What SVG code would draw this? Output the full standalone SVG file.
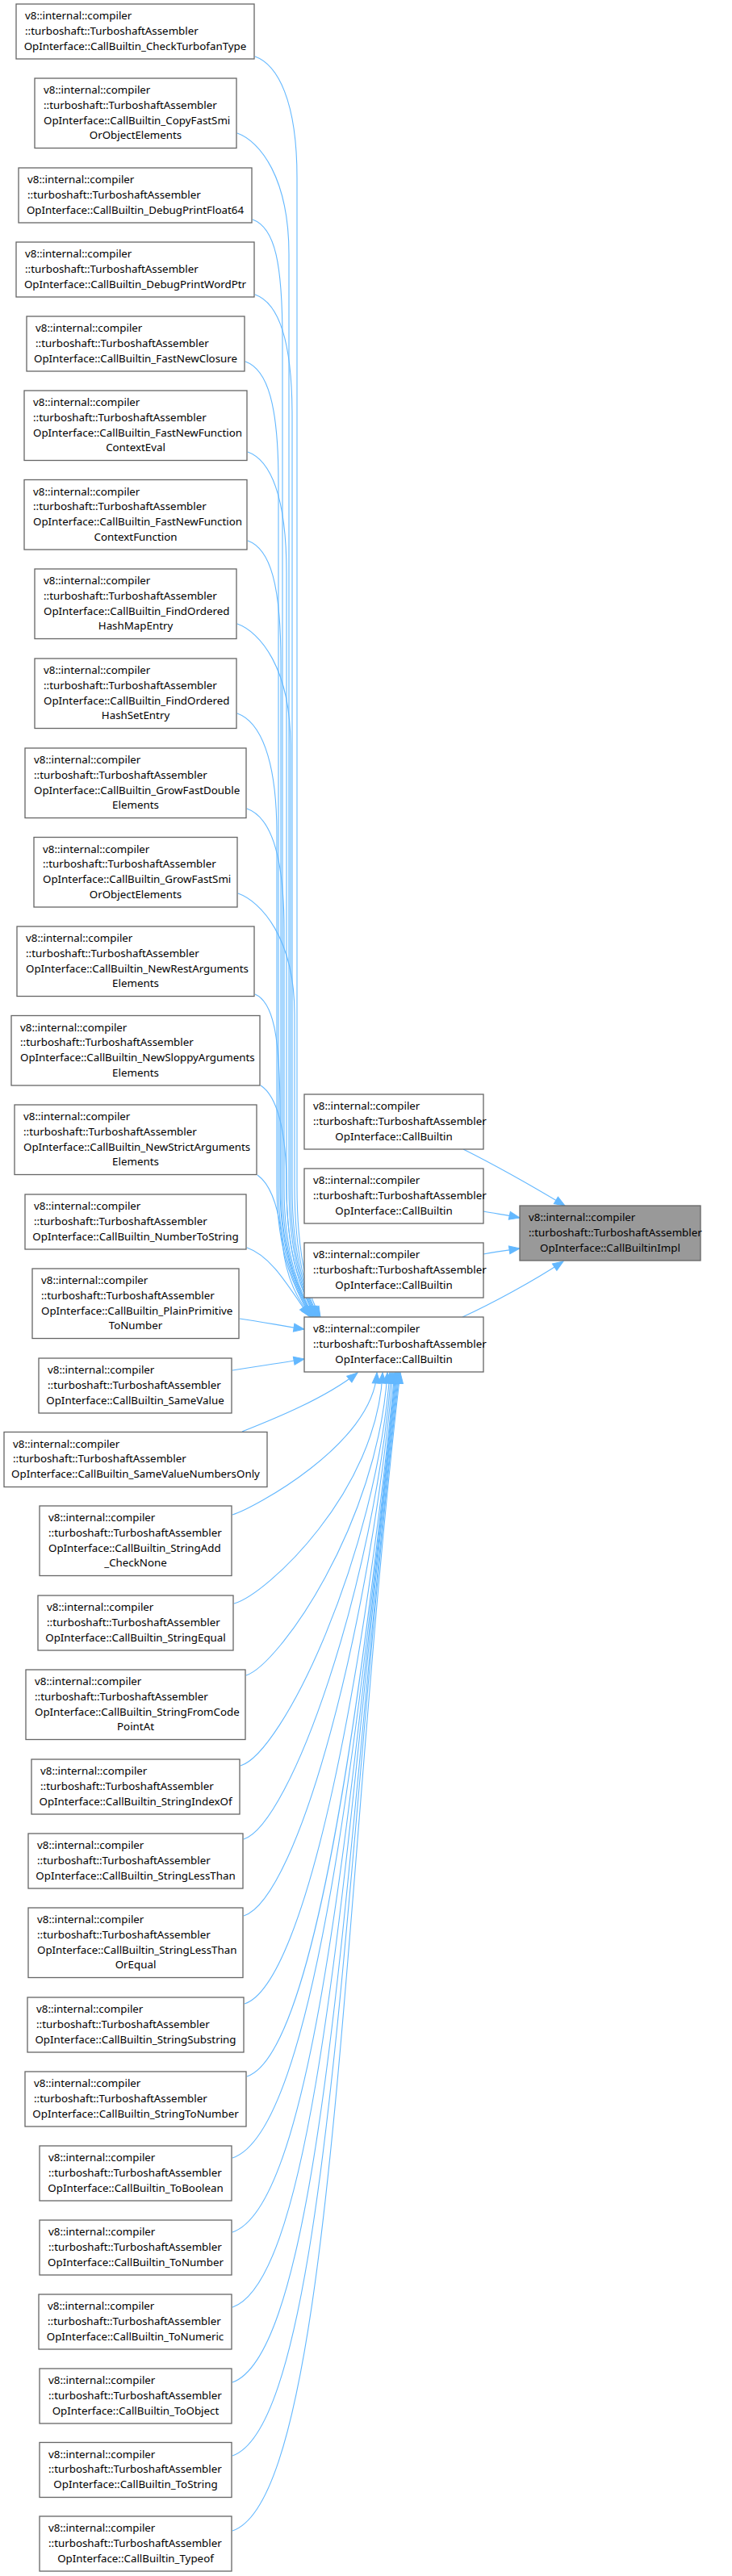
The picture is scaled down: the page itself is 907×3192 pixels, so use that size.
<svg xmlns="http://www.w3.org/2000/svg" width="907" height="3192" viewBox="0 0 907 3192">
<style>
.n rect{fill:#ffffff;stroke:#666666;stroke-width:1.3}
.n.hl rect{fill:#999999}
text{font-family:"Noto Sans","DejaVu Sans",sans-serif;font-size:13.33px;fill:#000000}
.c{text-anchor:middle}
.e path{fill:none;stroke:#63b8ff;stroke-width:1.1;marker-end:url(#ah)}
</style>
<defs>
<marker id="ah" markerWidth="14" markerHeight="11" refX="13" refY="5" orient="auto" markerUnits="userSpaceOnUse" overflow="visible">
<path d="M0,0 L13,5 L0,10 z" fill="#63b8ff" stroke="#63b8ff" stroke-width="1"/>
</marker>
</defs>
<rect x="0" y="0" width="907" height="3192" fill="#ffffff"/>
<g id="edges" class="e">
<path d="M316,70 C344,80 368,125 368,220 L368,1470 C368,1560 382,1605 397,1632"/>
<path d="M294,165 C322,175 358,220 358,315 L358,1470 C358,1560 377,1605 392,1632"/>
<path d="M313,272 C341,282 350,327 350,422 L350,1470 C350,1560 373,1605 388,1632"/>
<path d="M316,365 C344,375 362,420 362,515 L362,1470 C362,1560 379,1605 394,1632"/>
<path d="M304,448 C332,458 345,503 345,598 L345,1470 C345,1560 371,1605 386,1632"/>
<path d="M307,560 C335,570 355,615 355,710 L355,1470 C355,1560 376,1605 391,1632"/>
<path d="M307,670 C335,680 348,725 348,820 L348,1470 C348,1560 373,1605 388,1632"/>
<path d="M294,773 C322,783 360,828 360,923 L360,1470 C360,1560 378,1605 393,1632"/>
<path d="M294,884 C322,894 343,939 343,1034 L343,1470 C343,1560 370,1605 385,1632"/>
<path d="M306,1002 C334,1012 352,1057 352,1152 L352,1470 C352,1560 374,1605 389,1632"/>
<path d="M295,1107 C323,1117 365,1162 365,1257 L365,1470 C365,1560 380,1605 395,1632"/>
<path d="M316,1232 C340,1242 347,1290 347,1380 L347,1470 C347,1560 372,1605 387,1632"/>
<path d="M323,1345 C343,1358 355,1400 355,1470 C355,1560 376,1605 391,1632"/>
<path d="M319,1456 C336,1468 346,1500 350,1540 C354,1585 370,1612 386,1632"/>
<path d="M306,1546 C335,1556 355,1590 383,1631"/>
<path d="M297,1634 C325,1638 350,1643 377,1647"/>
<path d="M288,1698 C318,1693 348,1689 377,1684"/>
<path d="M300,1774 C330,1762 400,1735 443,1701"/>
<path d="M288,1877 C312,1870 462,1790 467,1701"/>
<path d="M290,1987 C330,1976 468,1848 474,1701"/>
<path d="M305,2076 C345,2063 468,1890 480,1701"/>
<path d="M298,2188 C350,2172 466,1930 483,1701"/>
<path d="M302,2279 C360,2260 464,1965 485,1701"/>
<path d="M302,2374 C370,2352 460,2010 487,1701"/>
<path d="M303,2483 C380,2458 455,2060 489,1701"/>
<path d="M306,2573 C390,2545 450,2100 490,1701"/>
<path d="M288,2674 C390,2640 445,2140 491,1701"/>
<path d="M288,2766 C395,2730 440,2170 492,1701"/>
<path d="M288,2859 C400,2820 435,2200 493,1701"/>
<path d="M288,2952 C405,2910 432,2230 494,1701"/>
<path d="M288,3043 C410,3000 428,2260 495,1701"/>
<path d="M288,3136 C416,3093 425,2303 496,1701"/>
<path d="M574,1424 C610,1442 660,1470 700,1494"/>
<path d="M599,1501 C615,1504 630,1506 644,1509"/>
<path d="M599,1554 C615,1551 630,1549 644,1547"/>
<path d="M573,1632 C610,1615 660,1588 698,1563"/>
</g>
<g id="n1" class="n"><rect x="20" y="5" width="295" height="68"/><text x="31" y="24">v8::internal::compiler</text><text x="31" y="42.75">::turboshaft::TurboshaftAssembler</text><text class="c" x="167.5" y="61.5">OpInterface::CallBuiltin_CheckTurbofanType</text></g>
<g id="n2" class="n"><rect x="43" y="97" width="250" height="86.5"/><text x="54" y="116">v8::internal::compiler</text><text x="54" y="134.75">::turboshaft::TurboshaftAssembler</text><text x="54" y="153.5">OpInterface::CallBuiltin_CopyFastSmi</text><text class="c" x="168" y="172.25">OrObjectElements</text></g>
<g id="n3" class="n"><rect x="23" y="208" width="289" height="68"/><text x="34" y="227">v8::internal::compiler</text><text x="34" y="245.75">::turboshaft::TurboshaftAssembler</text><text class="c" x="167.5" y="264.5">OpInterface::CallBuiltin_DebugPrintFloat64</text></g>
<g id="n4" class="n"><rect x="20" y="300" width="295" height="68"/><text x="31" y="319">v8::internal::compiler</text><text x="31" y="337.75">::turboshaft::TurboshaftAssembler</text><text class="c" x="167.5" y="356.5">OpInterface::CallBuiltin_DebugPrintWordPtr</text></g>
<g id="n5" class="n"><rect x="33" y="392" width="270" height="68"/><text x="44" y="411">v8::internal::compiler</text><text x="44" y="429.75">::turboshaft::TurboshaftAssembler</text><text class="c" x="168" y="448.5">OpInterface::CallBuiltin_FastNewClosure</text></g>
<g id="n6" class="n"><rect x="30" y="484" width="276" height="86.5"/><text x="41" y="503">v8::internal::compiler</text><text x="41" y="521.75">::turboshaft::TurboshaftAssembler</text><text x="41" y="540.5">OpInterface::CallBuiltin_FastNewFunction</text><text class="c" x="168" y="559.25">ContextEval</text></g>
<g id="n7" class="n"><rect x="30" y="594.5" width="276" height="86.5"/><text x="41" y="613.5">v8::internal::compiler</text><text x="41" y="632.25">::turboshaft::TurboshaftAssembler</text><text x="41" y="651">OpInterface::CallBuiltin_FastNewFunction</text><text class="c" x="168" y="669.75">ContextFunction</text></g>
<g id="n8" class="n"><rect x="43" y="705" width="250" height="86.5"/><text x="54" y="724">v8::internal::compiler</text><text x="54" y="742.75">::turboshaft::TurboshaftAssembler</text><text x="54" y="761.5">OpInterface::CallBuiltin_FindOrdered</text><text class="c" x="168" y="780.25">HashMapEntry</text></g>
<g id="n9" class="n"><rect x="43" y="816" width="250" height="86.5"/><text x="54" y="835">v8::internal::compiler</text><text x="54" y="853.75">::turboshaft::TurboshaftAssembler</text><text x="54" y="872.5">OpInterface::CallBuiltin_FindOrdered</text><text class="c" x="168" y="891.25">HashSetEntry</text></g>
<g id="n10" class="n"><rect x="31" y="927" width="274" height="86.5"/><text x="42" y="946">v8::internal::compiler</text><text x="42" y="964.75">::turboshaft::TurboshaftAssembler</text><text x="42" y="983.5">OpInterface::CallBuiltin_GrowFastDouble</text><text class="c" x="168" y="1002.25">Elements</text></g>
<g id="n11" class="n"><rect x="42" y="1037.5" width="252" height="86.5"/><text x="53" y="1056.5">v8::internal::compiler</text><text x="53" y="1075.25">::turboshaft::TurboshaftAssembler</text><text x="53" y="1094">OpInterface::CallBuiltin_GrowFastSmi</text><text class="c" x="168" y="1112.75">OrObjectElements</text></g>
<g id="n12" class="n"><rect x="21" y="1148" width="294" height="86.5"/><text x="32" y="1167">v8::internal::compiler</text><text x="32" y="1185.75">::turboshaft::TurboshaftAssembler</text><text x="32" y="1204.5">OpInterface::CallBuiltin_NewRestArguments</text><text class="c" x="168" y="1223.25">Elements</text></g>
<g id="n13" class="n"><rect x="14" y="1258.5" width="308" height="86.5"/><text x="25" y="1277.5">v8::internal::compiler</text><text x="25" y="1296.25">::turboshaft::TurboshaftAssembler</text><text x="25" y="1315">OpInterface::CallBuiltin_NewSloppyArguments</text><text class="c" x="168" y="1333.75">Elements</text></g>
<g id="n14" class="n"><rect x="18" y="1369" width="300" height="86.5"/><text x="29" y="1388">v8::internal::compiler</text><text x="29" y="1406.75">::turboshaft::TurboshaftAssembler</text><text x="29" y="1425.5">OpInterface::CallBuiltin_NewStrictArguments</text><text class="c" x="168" y="1444.25">Elements</text></g>
<g id="n15" class="n"><rect x="31" y="1480" width="274" height="68"/><text x="42" y="1499">v8::internal::compiler</text><text x="42" y="1517.75">::turboshaft::TurboshaftAssembler</text><text class="c" x="168" y="1536.5">OpInterface::CallBuiltin_NumberToString</text></g>
<g id="n16" class="n"><rect x="40" y="1572" width="256" height="86.5"/><text x="51" y="1591">v8::internal::compiler</text><text x="51" y="1609.75">::turboshaft::TurboshaftAssembler</text><text x="51" y="1628.5">OpInterface::CallBuiltin_PlainPrimitive</text><text class="c" x="168" y="1647.25">ToNumber</text></g>
<g id="n17" class="n"><rect x="48" y="1683" width="239" height="68"/><text x="59" y="1702">v8::internal::compiler</text><text x="59" y="1720.75">::turboshaft::TurboshaftAssembler</text><text class="c" x="167.5" y="1739.5">OpInterface::CallBuiltin_SameValue</text></g>
<g id="n18" class="n"><rect x="5" y="1774.5" width="326" height="68"/><text x="16" y="1793.5">v8::internal::compiler</text><text x="16" y="1812.25">::turboshaft::TurboshaftAssembler</text><text class="c" x="168" y="1831">OpInterface::CallBuiltin_SameValueNumbersOnly</text></g>
<g id="n19" class="n"><rect x="49" y="1866" width="238" height="86.5"/><text x="60" y="1885">v8::internal::compiler</text><text x="60" y="1903.75">::turboshaft::TurboshaftAssembler</text><text x="60" y="1922.5">OpInterface::CallBuiltin_StringAdd</text><text class="c" x="168" y="1941.25">_CheckNone</text></g>
<g id="n20" class="n"><rect x="47" y="1977" width="242" height="68"/><text x="58" y="1996">v8::internal::compiler</text><text x="58" y="2014.75">::turboshaft::TurboshaftAssembler</text><text class="c" x="168" y="2033.5">OpInterface::CallBuiltin_StringEqual</text></g>
<g id="n21" class="n"><rect x="32" y="2069" width="272" height="86.5"/><text x="43" y="2088">v8::internal::compiler</text><text x="43" y="2106.75">::turboshaft::TurboshaftAssembler</text><text x="43" y="2125.5">OpInterface::CallBuiltin_StringFromCode</text><text class="c" x="168" y="2144.25">PointAt</text></g>
<g id="n22" class="n"><rect x="39" y="2180" width="258" height="68"/><text x="50" y="2199">v8::internal::compiler</text><text x="50" y="2217.75">::turboshaft::TurboshaftAssembler</text><text class="c" x="168" y="2236.5">OpInterface::CallBuiltin_StringIndexOf</text></g>
<g id="n23" class="n"><rect x="35" y="2272" width="266" height="68"/><text x="46" y="2291">v8::internal::compiler</text><text x="46" y="2309.75">::turboshaft::TurboshaftAssembler</text><text class="c" x="168" y="2328.5">OpInterface::CallBuiltin_StringLessThan</text></g>
<g id="n24" class="n"><rect x="35" y="2364" width="266" height="86.5"/><text x="46" y="2383">v8::internal::compiler</text><text x="46" y="2401.75">::turboshaft::TurboshaftAssembler</text><text x="46" y="2420.5">OpInterface::CallBuiltin_StringLessThan</text><text class="c" x="168" y="2439.25">OrEqual</text></g>
<g id="n25" class="n"><rect x="34" y="2475" width="268" height="68"/><text x="45" y="2494">v8::internal::compiler</text><text x="45" y="2512.75">::turboshaft::TurboshaftAssembler</text><text class="c" x="168" y="2531.5">OpInterface::CallBuiltin_StringSubstring</text></g>
<g id="n26" class="n"><rect x="31" y="2567" width="274" height="68"/><text x="42" y="2586">v8::internal::compiler</text><text x="42" y="2604.75">::turboshaft::TurboshaftAssembler</text><text class="c" x="168" y="2623.5">OpInterface::CallBuiltin_StringToNumber</text></g>
<g id="n27" class="n"><rect x="49" y="2659" width="238" height="68"/><text x="60" y="2678">v8::internal::compiler</text><text x="60" y="2696.75">::turboshaft::TurboshaftAssembler</text><text class="c" x="168" y="2715.5">OpInterface::CallBuiltin_ToBoolean</text></g>
<g id="n28" class="n"><rect x="49" y="2751" width="238" height="68"/><text x="60" y="2770">v8::internal::compiler</text><text x="60" y="2788.75">::turboshaft::TurboshaftAssembler</text><text class="c" x="168" y="2807.5">OpInterface::CallBuiltin_ToNumber</text></g>
<g id="n29" class="n"><rect x="48" y="2843" width="239" height="68"/><text x="59" y="2862">v8::internal::compiler</text><text x="59" y="2880.75">::turboshaft::TurboshaftAssembler</text><text class="c" x="167.5" y="2899.5">OpInterface::CallBuiltin_ToNumeric</text></g>
<g id="n30" class="n"><rect x="49" y="2935" width="238" height="68"/><text x="60" y="2954">v8::internal::compiler</text><text x="60" y="2972.75">::turboshaft::TurboshaftAssembler</text><text class="c" x="168" y="2991.5">OpInterface::CallBuiltin_ToObject</text></g>
<g id="n31" class="n"><rect x="49" y="3026.5" width="238" height="68"/><text x="60" y="3045.5">v8::internal::compiler</text><text x="60" y="3064.25">::turboshaft::TurboshaftAssembler</text><text class="c" x="168" y="3083">OpInterface::CallBuiltin_ToString</text></g>
<g id="n32" class="n"><rect x="49" y="3118" width="238" height="68"/><text x="60" y="3137">v8::internal::compiler</text><text x="60" y="3155.75">::turboshaft::TurboshaftAssembler</text><text class="c" x="168" y="3174.5">OpInterface::CallBuiltin_Typeof</text></g>
<g id="cbA" class="n"><rect x="377" y="1356" width="222" height="68"/><text x="388" y="1375">v8::internal::compiler</text><text x="388" y="1393.75">::turboshaft::TurboshaftAssembler</text><text class="c" x="488" y="1412.5">OpInterface::CallBuiltin</text></g>
<g id="cbB" class="n"><rect x="377" y="1448" width="222" height="68"/><text x="388" y="1467">v8::internal::compiler</text><text x="388" y="1485.75">::turboshaft::TurboshaftAssembler</text><text class="c" x="488" y="1504.5">OpInterface::CallBuiltin</text></g>
<g id="cbC" class="n"><rect x="377" y="1540" width="222" height="68"/><text x="388" y="1559">v8::internal::compiler</text><text x="388" y="1577.75">::turboshaft::TurboshaftAssembler</text><text class="c" x="488" y="1596.5">OpInterface::CallBuiltin</text></g>
<g id="cbD" class="n"><rect x="377" y="1632" width="222" height="68"/><text x="388" y="1651">v8::internal::compiler</text><text x="388" y="1669.75">::turboshaft::TurboshaftAssembler</text><text class="c" x="488" y="1688.5">OpInterface::CallBuiltin</text></g>
<g id="impl" class="n hl"><rect x="644" y="1494" width="224" height="68"/><text x="655" y="1513">v8::internal::compiler</text><text x="655" y="1531.75">::turboshaft::TurboshaftAssembler</text><text class="c" x="756" y="1550.5">OpInterface::CallBuiltinImpl</text></g>
</svg>
